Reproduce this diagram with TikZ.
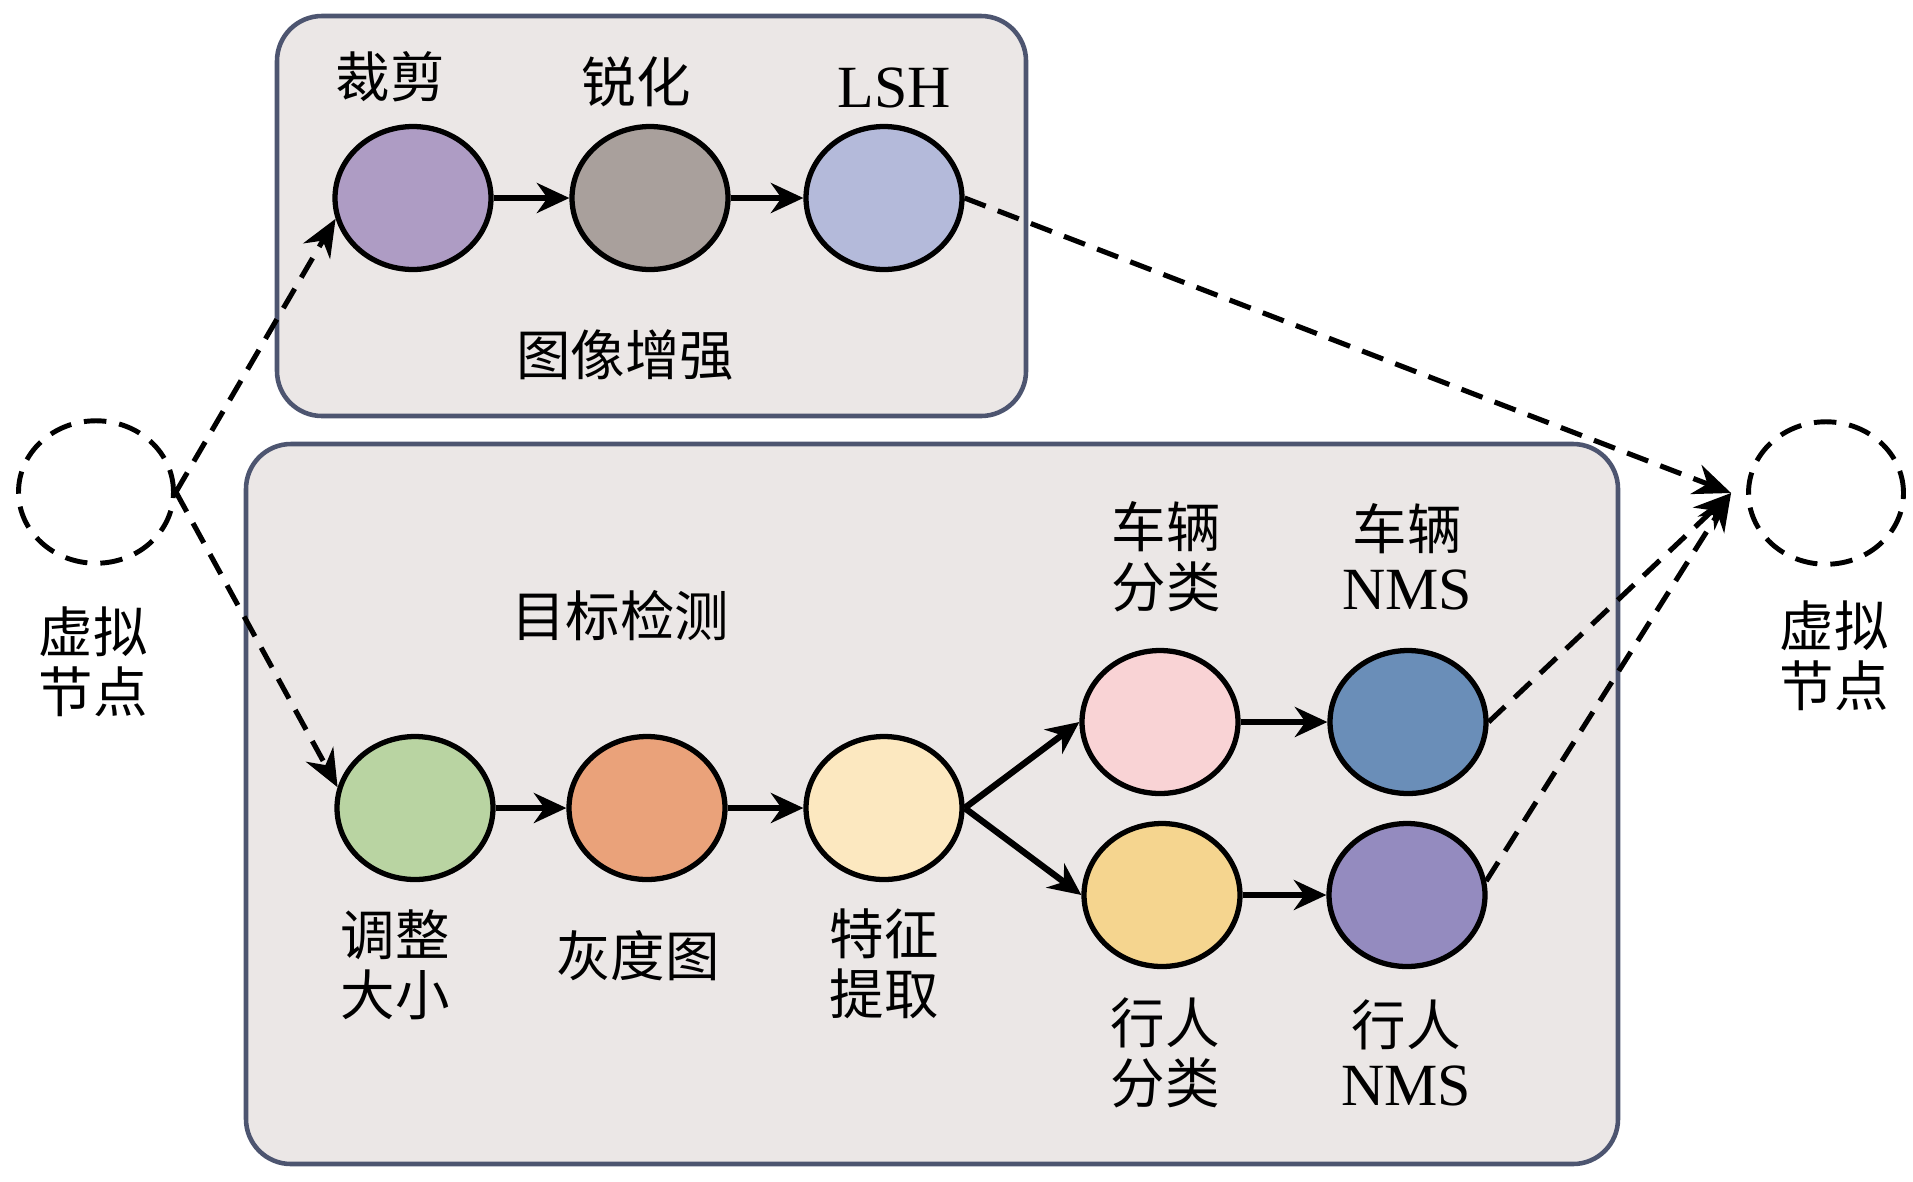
\documentclass[tikz,border=0pt]{standalone}
\usepackage{fontspec}
\setmainfont{Liberation Serif}[Scale=1.1]
\newfontfamily\cjk{Noto Sans CJK SC}
\usetikzlibrary{arrows.meta,shapes.geometric}
\definecolor{boxfill}{HTML}{EBE7E6}
\definecolor{boxline}{HTML}{4D5570}
\definecolor{cCrop}{HTML}{AE9CC4}
\definecolor{cSharp}{HTML}{A9A09C}
\definecolor{cLsh}{HTML}{B4BADA}
\definecolor{cResize}{HTML}{B9D4A2}
\definecolor{cGray}{HTML}{EAA27A}
\definecolor{cFeat}{HTML}{FCE8C0}
\definecolor{cVcls}{HTML}{F9D3D5}
\definecolor{cVnms}{HTML}{6A8EB8}
\definecolor{cPcls}{HTML}{F5D58F}
\definecolor{cPnms}{HTML}{948BBF}
\begin{document}
\begin{tikzpicture}[x=0.02cm,y=-0.02cm,
  proc/.style={ellipse, draw=black, line width=3pt, minimum width=3.12cm, minimum height=2.86cm, inner sep=0pt},
  virt/.style={ellipse, draw=black, line width=2.8pt, dash pattern=on 0.45cm off 0.26cm, minimum width=3.1cm, minimum height=2.85cm, inner sep=0pt},
  grp/.style={draw=boxline, fill=boxfill, line width=2.6pt, rounded corners=0.9cm},
  lbl/.style={font=\fontsize{31}{34}\selectfont, align=center, inner sep=0pt},
  flow/.style={line width=3.6pt, -{Stealth[length=0.65cm,width=0.6cm]}},
  dflow/.style={line width=2.9pt, dash pattern=on 0.45cm off 0.26cm, -{Stealth[length=0.75cm,width=0.62cm]}}
]
\useasboundingbox (0,0) rectangle (1913,1181);
% group boxes
\draw[grp] (277,16) rectangle (1026,416);
\draw[grp] (246,444) rectangle (1618,1164);

% process nodes
\node[proc, fill=cCrop]   (crop)   at (413,198) {};
\node[proc, fill=cSharp]  (sharp)  at (650,198) {};
\node[proc, fill=cLsh]    (lsh)    at (884,198) {};
\node[proc, fill=cResize] (resize) at (415,808) {};
\node[proc, fill=cGray]   (gray)   at (647,808) {};
\node[proc, fill=cFeat]   (feat)   at (884,808) {};
\node[proc, fill=cVcls]   (vcls)   at (1160,722) {};
\node[proc, fill=cVnms]   (vnms)   at (1408,722) {};
\node[proc, fill=cPcls]   (pcls)   at (1162,895) {};
\node[proc, fill=cPnms]   (pnms)   at (1407,895) {};

% virtual nodes
\node[virt] (vl) at (96,492) {};
\node[virt] (vr) at (1826,493) {};

% labels
\node[lbl] (tcrop)  at (390,77)  {\cjk 裁剪};
\node[lbl] (tsharp) at (636,82)  {\cjk 锐化};
\node[lbl] (tlsh)   at (894,88)  {LSH};
\node[lbl] (tenh)   at (625,355) {\cjk 图像增强};
\node[lbl] (tdet)   at (620,616) {\cjk 目标检测};
\node[lbl] (tvl)    at (93,662)  {\cjk 虚拟\\\cjk 节点};
\node[lbl] (tvr)    at (1834,656) {\cjk 虚拟\\\cjk 节点};
\node[lbl] (tres)   at (395,965) {\cjk 调整\\\cjk 大小};
\node[lbl] (tgray)  at (638,956) {\cjk 灰度图};
\node[lbl] (tfeat)  at (884,964) {\cjk 特征\\\cjk 提取};
\node[lbl] (tvcls)  at (1166,557) {\cjk 车辆\\\cjk 分类};
\node[lbl] (tvnms)  at (1407,557) {\cjk 车辆\\NMS};
\node[lbl] (tpcls)  at (1165,1053) {\cjk 行人\\\cjk 分类};
\node[lbl] (tpnms)  at (1406,1053) {\cjk 行人\\NMS};

% solid flows
\draw[flow] (crop.east) -- (sharp.west);
\draw[flow] (sharp.east) -- (lsh.west);
\draw[flow] (resize.east) -- (gray.west);
\draw[flow] (gray.east) -- (feat.west);
\draw[flow] (feat.east) -- (vcls.west);
\draw[flow] (feat.east) -- (pcls.west);
\draw[flow] (vcls.east) -- (vnms.west);
\draw[flow] (pcls.east) -- (pnms.west);

% dashed flows
\draw[dflow] (vl.east) -- (crop.195);
\draw[dflow] (vl.east) -- (resize.165);
\draw[dflow] (lsh.east) -- ([xshift=-0.3cm]vr.west);
\draw[dflow] (vnms.east) -- ([xshift=-0.3cm]vr.west);
\draw[dflow] (pnms.10) -- ([xshift=-0.3cm]vr.west);
\end{tikzpicture}
\end{document}
